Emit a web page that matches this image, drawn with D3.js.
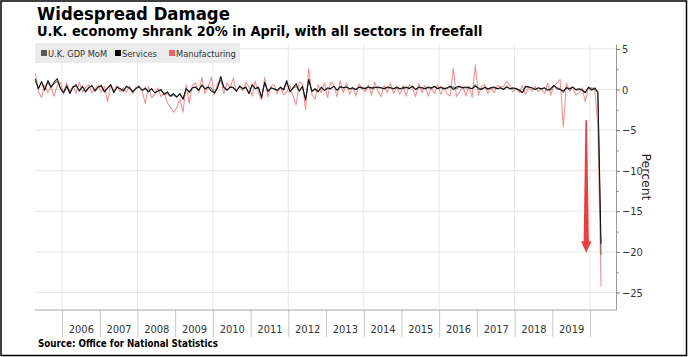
<!DOCTYPE html>
<html><head><meta charset="utf-8">
<script src="https://cdn.jsdelivr.net/npm/d3@7"></script>
<style>body{margin:0;background:#fff;} svg{display:block;}</style>
</head><body><svg id="c" width="688" height="357"></svg>
<script>
// ---------- DATA ----------
const firstYear = 2005, firstMonth = 3; // April 2005 (0-indexed month)
const yearLabels = [2006,2007,2008,2009,2010,2011,2012,2013,2014,2015,2016,2017,2018,2019];
const yearSeparators = [2006,2007,2008,2009,2010,2011,2012,2013,2014,2015,2016,2017,2018,2019,2020];
const gridYears = [2006,2008,2010,2012,2014,2016,2018,2020];
const yMajorTicks = [5,0,-5,-10,-15,-20,-25];
const yMinorTicks = [2.5,-2.5,-7.5,-12.5,-17.5,-22.5];
const seriesNames = ["U.K. GDP MoM","Services","Manufacturing"];

const gdp = [
 1.0,0.2,0.8,0.0,0.9,0.2,0.7,1.0,0.2,                 // 2005 Apr-Dec
 -0.3,0.5,-0.4,0.3,0.4,-0.1,0.3,-0.2,0.3,0.4,-0.1,0.3, // 2006
 0.4,-0.2,0.1,0.5,-0.3,0.3,0.1,-0.1,0.3,0.1,-0.2,0.1,  // 2007
 0.3,-0.1,0.0,-0.2,0.0,-0.4,-0.2,-0.1,-0.6,-0.5,-0.9,-0.7, // 2008
 -1.0,-0.6,-1.2,0.1,-0.4,0.2,0.3,-0.1,0.6,0.0,0.3,0.2, // 2009
 -0.5,0.3,1.2,0.2,0.0,0.3,0.3,-0.2,0.3,0.1,0.2,-0.5,   // 2010
 0.5,0.1,0.2,-0.9,0.8,-0.3,0.2,0.0,-0.1,0.2,-0.1,0.8,  // 2011
 -0.2,0.1,0.4,-0.2,0.3,-1.2,1.3,-0.3,0.0,-0.2,0.2,-0.1, // 2012
 0.1,0.1,0.4,-0.1,0.4,0.2,0.3,0.1,0.1,0.0,0.3,0.1,     // 2013
 0.2,0.3,0.1,0.3,0.2,0.2,0.1,0.2,0.2,0.1,0.2,0.1,      // 2014
 0.1,0.2,0.2,0.3,0.0,0.2,0.2,0.1,0.2,0.1,0.3,0.1,      // 2015
 0.2,0.1,0.1,0.3,0.3,0.1,0.3,0.2,0.2,0.2,0.1,0.6,      // 2016
 0.0,0.1,0.2,0.0,0.2,0.2,0.1,0.2,0.1,0.4,0.1,0.1,      // 2017
 0.1,0.0,-0.4,0.3,0.3,0.2,0.0,0.2,0.0,0.2,0.0,-0.1,    // 2018
 0.5,0.2,0.1,-0.4,0.3,-0.1,0.3,-0.1,0.0,0.0,-0.3,0.2,  // 2019
 0.1,0.0,-0.4,-20.4                                    // 2020 Jan-Apr
];
const services = [
 1.3,0.1,1.0,-0.1,1.1,0.3,0.9,1.3,0.1,
 -0.4,0.4,-0.5,0.3,0.6,-0.2,0.4,-0.3,0.2,0.5,-0.2,0.3,
 0.5,-0.3,0.2,0.6,-0.4,0.3,0.1,-0.2,0.4,0.2,-0.3,0.1,
 0.4,-0.1,0.2,-0.3,0.1,-0.4,-0.2,0.0,-0.6,-0.3,-0.8,-0.5,
 -0.9,-0.5,-1.2,0.1,-0.3,0.2,0.3,-0.1,0.5,0.1,0.3,-0.2,
 -0.4,0.2,1.6,0.3,-0.1,0.3,0.2,-0.2,0.4,0.1,0.3,-0.5,
 0.6,0.1,0.3,-1.0,0.9,-0.2,0.2,0.1,-0.1,0.3,0.0,1.1,
 -0.3,0.2,0.7,-0.2,0.4,-1.3,1.2,-0.2,0.1,-0.3,0.3,-0.1,
 0.2,0.1,0.4,-0.1,0.3,0.2,0.3,0.1,0.2,0.0,0.3,0.2,
 0.1,0.3,0.2,0.2,0.3,0.2,0.1,0.3,0.2,0.1,0.3,0.1,
 0.2,0.3,0.1,0.4,0.0,0.3,0.2,0.1,0.3,0.2,0.4,0.1,
 0.3,0.1,0.2,0.4,0.0,0.3,0.4,0.2,0.3,0.2,0.1,0.4,
 0.2,0.0,0.3,0.1,0.2,0.3,0.1,0.2,0.0,0.3,0.1,0.2,
 0.1,-0.1,-0.4,0.4,0.3,0.2,0.0,0.2,0.1,0.2,-0.1,0.1,
 0.5,0.1,0.0,-0.2,0.2,0.1,0.3,0.0,0.1,-0.1,-0.4,0.3,
 -0.1,0.2,-0.3,-19.0
];
const manufacturing = [
 2.0,-0.3,-1.0,0.6,-0.4,0.3,-0.8,0.5,0.9,
 -0.6,0.8,-0.2,0.4,-0.5,0.9,-0.3,0.2,0.6,-0.4,0.1,0.5,
 -0.3,0.4,-1.5,0.6,-0.2,0.5,-0.3,0.2,-0.3,0.4,-0.5,0.3,
 0.3,-0.2,-1.7,0.4,-1.0,-0.6,0.2,-0.9,-0.4,-1.6,-2.2,-2.8,
 -2.3,-1.2,-2.8,0.6,-1.7,0.5,0.8,-0.4,1.5,-0.5,0.4,1.5,
 -0.6,0.7,1.2,-0.5,0.8,0.2,1.4,-0.3,0.5,-0.2,0.9,0.3,
 -0.8,1.0,-0.4,-1.3,1.5,-0.9,0.4,0.6,-0.5,0.3,-0.7,-0.3,
 0.5,-0.8,-1.9,0.9,0.7,-2.5,2.6,-0.6,-1.2,0.6,-0.4,0.8,
 -1.0,0.9,0.6,-0.9,1.1,-0.4,0.8,-0.6,0.3,-0.8,0.7,0.2,
 -0.3,0.6,-0.7,0.9,-0.2,-0.9,0.5,-0.4,0.8,-0.5,0.3,-0.6,
 0.5,-0.8,0.6,0.3,-0.9,0.7,-0.4,0.5,-0.8,0.2,-0.5,0.6,
 -0.6,0.3,-0.5,-0.8,2.6,-0.9,-0.3,0.4,-0.8,0.5,-1.0,3.0,
 -0.7,0.4,0.6,-0.5,0.2,-0.4,0.5,0.3,0.4,1.0,0.5,-0.3,
 0.2,-0.4,0.5,-0.6,0.3,-0.2,0.4,-0.3,0.1,-0.5,0.8,-0.7,
 0.4,0.8,1.2,-4.6,0.8,-0.2,0.3,-0.7,-0.4,0.2,-1.5,0.2,
 0.2,0.1,-4.6,-24.3
];
// annotation arrow (in data units)
const arrowAt = {year: 2019.9, from: -3.8, to: -20.1, headStart: -18.7};

// ---------- LAYOUT ----------
const W = 688, H = 357;
const plot = {left: 35, right: 616, top: 44, bottom: 310};
const font = "'DejaVu Sans Condensed','DejaVu Sans',sans-serif";
const colors = {gdp: "#5a5a5a", services: "#111111", manufacturing: "#ee6464", arrow: "#e8403e"};

const svg = d3.select("#c");
svg.append("rect").attr("width", W).attr("height", H).attr("fill", "#fff");

const x = d3.scaleLinear().domain([2005.284, 2020.689]).range([plot.left, plot.right]);
const y = d3.scaleLinear().domain([5.6, -27.15]).range([plot.top, plot.bottom]);
const tOf = i => firstYear + (firstMonth + i + 0.5) / 12;

function fit(sel, target) {
  const n = sel.node();
  const fs = parseFloat(sel.attr("font-size"));
  const len = n.getComputedTextLength();
  if (len > 0) sel.attr("font-size", fs * target / len);
  return sel;
}

// gridlines
const grid = svg.append("g");
grid.selectAll("line.h").data(yMajorTicks).join("line")
  .attr("x1", plot.left).attr("x2", plot.right)
  .attr("y1", d => y(d)).attr("y2", d => y(d))
  .attr("stroke", "#e6e6e6").attr("stroke-width", 1);
grid.selectAll("line.v").data(gridYears).join("line")
  .attr("x1", d => x(d)).attr("x2", d => x(d))
  .attr("y1", plot.top).attr("y2", plot.bottom)
  .attr("stroke", "#e6e6e6").attr("stroke-width", 1);

// lines
const line = d3.line().x((d, i) => x(tOf(i))).y(d => y(d));
svg.append("path").datum(manufacturing).attr("d", line)
  .attr("fill", "none").attr("stroke", colors.manufacturing).attr("stroke-opacity", 0.72)
  .attr("stroke-width", 1.05).attr("stroke-linejoin", "round");
svg.append("path").datum(gdp).attr("d", line)
  .attr("fill", "none").attr("stroke", colors.gdp).attr("stroke-width", 1.0).attr("stroke-linejoin", "round");
svg.append("path").datum(services).attr("d", line)
  .attr("fill", "none").attr("stroke", colors.services).attr("stroke-width", 1.05).attr("stroke-linejoin", "round");

// arrow annotation
const ax = x(arrowAt.year);
const a0 = y(arrowAt.from), a1 = y(arrowAt.headStart), a2 = y(arrowAt.to);
svg.append("path")
  .attr("d", `M${ax-0.8},${a0} L${ax+0.8},${a0} L${ax+2.6},${a1} L${ax+5.2},${a1} L${ax},${a2} L${ax-5.2},${a1} L${ax-2.6},${a1} Z`)
  .attr("fill", colors.arrow);

// x axis: separators
const xSep = svg.append("g").attr("transform", `translate(0,${plot.bottom})`)
  .call(d3.axisBottom(x).tickValues(yearSeparators).tickSize(27).tickFormat(""));
xSep.select(".domain").remove();
xSep.selectAll(".tick line").attr("stroke", "#c8c8c8");
svg.append("line").attr("x1", plot.left).attr("x2", plot.right)
  .attr("y1", plot.bottom).attr("y2", plot.bottom).attr("stroke", "#a8a8a8").attr("stroke-width", 1.2);
// x axis: labels
const xLab = svg.append("g").attr("transform", `translate(0,${plot.bottom})`)
  .call(d3.axisBottom(x).tickValues(yearLabels.map(d => d + 0.5)).tickSize(0).tickPadding(15)
    .tickFormat(d => String(Math.floor(d))));
xLab.select(".domain").remove();
xLab.selectAll("text").attr("font-family", font).attr("font-size", 11).attr("fill", "#333");

// y axis right
const yAx = svg.append("g").attr("transform", `translate(${plot.right},0)`)
  .call(d3.axisRight(y).tickValues(yMajorTicks).tickSize(4).tickSizeOuter(0).tickPadding(2)
    .tickFormat(d3.format("d")));
yAx.select(".domain").attr("stroke", "#999");
yAx.selectAll(".tick line").attr("stroke", "#777");
yAx.selectAll("text").attr("font-family", font).attr("font-size", 11).attr("fill", "#333");
const yMin = svg.append("g").attr("transform", `translate(${plot.right},0)`)
  .call(d3.axisRight(y).tickValues(yMinorTicks).tickSize(2.5).tickFormat(""));
yMin.select(".domain").remove();
yMin.selectAll(".tick line").attr("stroke", "#888");

// y axis title
const pt = svg.append("text").attr("transform", `translate(642,177) rotate(90)`)
  .attr("text-anchor", "middle").attr("font-family", "'DejaVu Sans',sans-serif").attr("font-size", 12.5)
  .attr("fill", "#222").text("Percent");
fit(pt, 47);

// legend
const lg = svg.append("g");
lg.append("rect").attr("x", 35).attr("y", 43).attr("width", 205).attr("height", 20).attr("fill", "#ebebeb");
const legendItems = [
  {name: seriesNames[0], color: colors.gdp, sx: 41, tx: 48},
  {name: seriesNames[1], color: "#000", sx: 115, tx: 122},
  {name: seriesNames[2], color: colors.manufacturing, sx: 169, tx: 176}
];
legendItems.forEach(it => {
  lg.append("rect").attr("x", it.sx).attr("y", 50).attr("width", 6).attr("height", 6).attr("fill", it.color);
  lg.append("text").attr("x", it.tx).attr("y", 57).attr("font-family", font)
    .attr("font-size", 9.2).attr("fill", "#333").text(it.name);
});

// titles
const t1 = svg.append("text").attr("x", 37).attr("y", 20).attr("font-family", font)
  .attr("font-weight", "bold").attr("font-size", 18).attr("fill", "#000").text("Widespread Damage");
fit(t1, 193);
const t2 = svg.append("text").attr("x", 37).attr("y", 36).attr("font-family", font)
  .attr("font-weight", "bold").attr("font-size", 12).attr("fill", "#000")
  .text("U.K. economy shrank 20% in April, with all sectors in freefall");
fit(t2, 446);
const t3 = svg.append("text").attr("x", 38).attr("y", 347).attr("font-family", font)
  .attr("font-weight", "bold").attr("font-size", 9.5).attr("fill", "#000")
  .text("Source: Office for National Statistics");
fit(t3, 180);

// frame
svg.append("rect").attr("x", 1).attr("y", 1).attr("width", W - 2.5).attr("height", H - 2.5)
  .attr("fill", "none").attr("stroke", "#000").attr("stroke-width", 1.5);
</script></body></html>
